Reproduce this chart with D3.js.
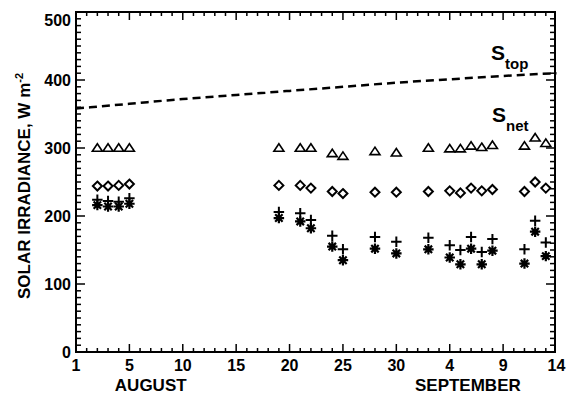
<!DOCTYPE html>
<html><head><meta charset="utf-8">
<script src="https://cdn.jsdelivr.net/npm/d3@7"></script>
<style>body{margin:0;background:#fff}svg{display:block}text{font-family:"Liberation Sans",Arial,sans-serif;font-weight:bold;fill:#000}</style>
</head><body><svg id="c" width="567" height="397"></svg>
<script>
// day number counted from August (Sep n = 31 + n)
const days      = [2,3,4,5, 19,21,22,24,25,28,30, 33,35,36,37,38,39, 42,43,44];
const snetTri   = [300,300,300,300, 300,300,300,292,288,295,293, 300,299,299,303,301,304, 303,315,307];
const diamonds  = [244,244,245,247, 245,245,241,236,233,235,235, 236,237,234,241,237,239, 236,250,241];
const crosses   = [224,222,221,226, 206,204,194,171,151,169,162, 168,157,150,169,147,166, 151,193,161];
const stars     = [216,214,214,218, 197,192,182,155,135,152,145, 151,139,129,152,129,149, 130,177,141];
const stopDays  = [0,5,10,15,20,25,30,35,40,45];
const stopVals  = [358,365,372,378,384,390,396,401,406,410];
const xTickVals = [0,5,10,15,20,25,30,35,40,45];
const xTickLabels = ["1","5","10","15","20","25","30","4","9","14"];
const yTickVals = [0,100,200,300,400,500];
const months = [{name:"AUGUST", day:7}, {name:"SEPTEMBER", day:36.7}];

const svg = d3.select("#c");
const L=76, R=555, T=12, B=352;
const x = d3.scaleLinear().domain([0,45]).range([L, 556.5]);
const y = d3.scaleLinear().domain([0,500]).range([B, T]);

// frame
svg.append("rect").attr("x",L).attr("y",T).attr("width",R-L).attr("height",B-T)
  .attr("fill","none").attr("stroke","#000").attr("stroke-width",2);

// ticks
const g = svg.append("g").attr("stroke","#000").attr("stroke-width",1.5);
d3.range(0,501,10).forEach(v=>{
  const major = v%100===0, len = major?9:5;
  g.append("line").attr("x1",L).attr("x2",L+len).attr("y1",y(v)).attr("y2",y(v));
  g.append("line").attr("x1",R).attr("x2",R-len).attr("y1",y(v)).attr("y2",y(v));
});
d3.range(0,46,1).forEach(d=>{
  const major = d%5===0, len = major?8:4;
  const xx = Math.min(x(d), R);
  g.append("line").attr("x1",xx).attr("x2",xx).attr("y1",B).attr("y2",B-len);
  g.append("line").attr("x1",xx).attr("x2",xx).attr("y1",T).attr("y2",T+len);
});

// tick labels
svg.selectAll(".yl").data(yTickVals).enter().append("text")
  .attr("x",71).attr("y",v=>y(v)+(v===500?8:0)).attr("dy","0.36em")
  .attr("text-anchor","end").attr("font-size",16).text(v=>v);
svg.selectAll(".xl").data(xTickVals).enter().append("text")
  .attr("x",(d)=>x(d)).attr("y",371).attr("text-anchor","middle")
  .attr("font-size",16).text((d,i)=>xTickLabels[i]);
svg.selectAll(".ml").data(months).enter().append("text")
  .attr("x",m=>x(m.day)).attr("y",391).attr("text-anchor","middle")
  .attr("font-size",17).text(m=>m.name);

// y-axis title
const yt = svg.append("text").attr("transform","translate(30,186) rotate(-90)")
  .attr("text-anchor","middle").attr("font-size",17);
yt.append("tspan").text("SOLAR IRRADIANCE, W m");
yt.append("tspan").attr("dy",-7).attr("font-size",11).text("-2");

// S_top dashed line
svg.append("path").datum(stopDays.map((d,i)=>[d,stopVals[i]]))
  .attr("d", d3.line().x(p=>x(p[0])).y(p=>y(p[1])).curve(d3.curveMonotoneX))
  .attr("fill","none").attr("stroke","#000").attr("stroke-width",2.5)
  .attr("stroke-dasharray","8,5");

// custom symbols
const plus = {draw(ctx, s){const r=Math.sqrt(s)/2; ctx.moveTo(-r,0);ctx.lineTo(r,0);ctx.moveTo(0,-r);ctx.lineTo(0,r);}};
const aster = {draw(ctx, s){const r=Math.sqrt(s)/2; for(let k=0;k<4;k++){const a=k*Math.PI/4; ctx.moveTo(-r*Math.cos(a),-r*Math.sin(a)); ctx.lineTo(r*Math.cos(a),r*Math.sin(a));}}};
const tri = {draw(ctx, s){const w=Math.sqrt(s)/2, h=w*0.85; ctx.moveTo(0,-h); ctx.lineTo(w,h*0.75); ctx.lineTo(-w,h*0.75); ctx.closePath();}};
const dia = {draw(ctx, s){const r=Math.sqrt(s)/2; ctx.moveTo(0,-r);ctx.lineTo(r,0);ctx.lineTo(0,r);ctx.lineTo(-r,0);ctx.closePath();}};

function series(vals, type, size, sw){
  svg.append("g").selectAll("path").data(vals).enter().append("path")
    .attr("transform",(v,i)=>`translate(${x(days[i])},${y(v)})`)
    .attr("d", d3.symbol().type(type).size(size))
    .attr("fill","none").attr("stroke","#000").attr("stroke-width",sw);
}
series(snetTri, tri, 100, 1.6);
series(diamonds, dia, 81, 2);
series(crosses, plus, 110, 2);
series(stars, aster, 110, 2.2);

// labels
const st = svg.append("text").attr("x",491).attr("y",60);
st.append("tspan").attr("font-size",21).text("S");
st.append("tspan").attr("font-size",15).attr("dy",9).text("top");
const sn = svg.append("text").attr("x",492).attr("y",122);
sn.append("tspan").attr("font-size",21).text("S");
sn.append("tspan").attr("font-size",15).attr("dy",9).text("net");
</script></body></html>
